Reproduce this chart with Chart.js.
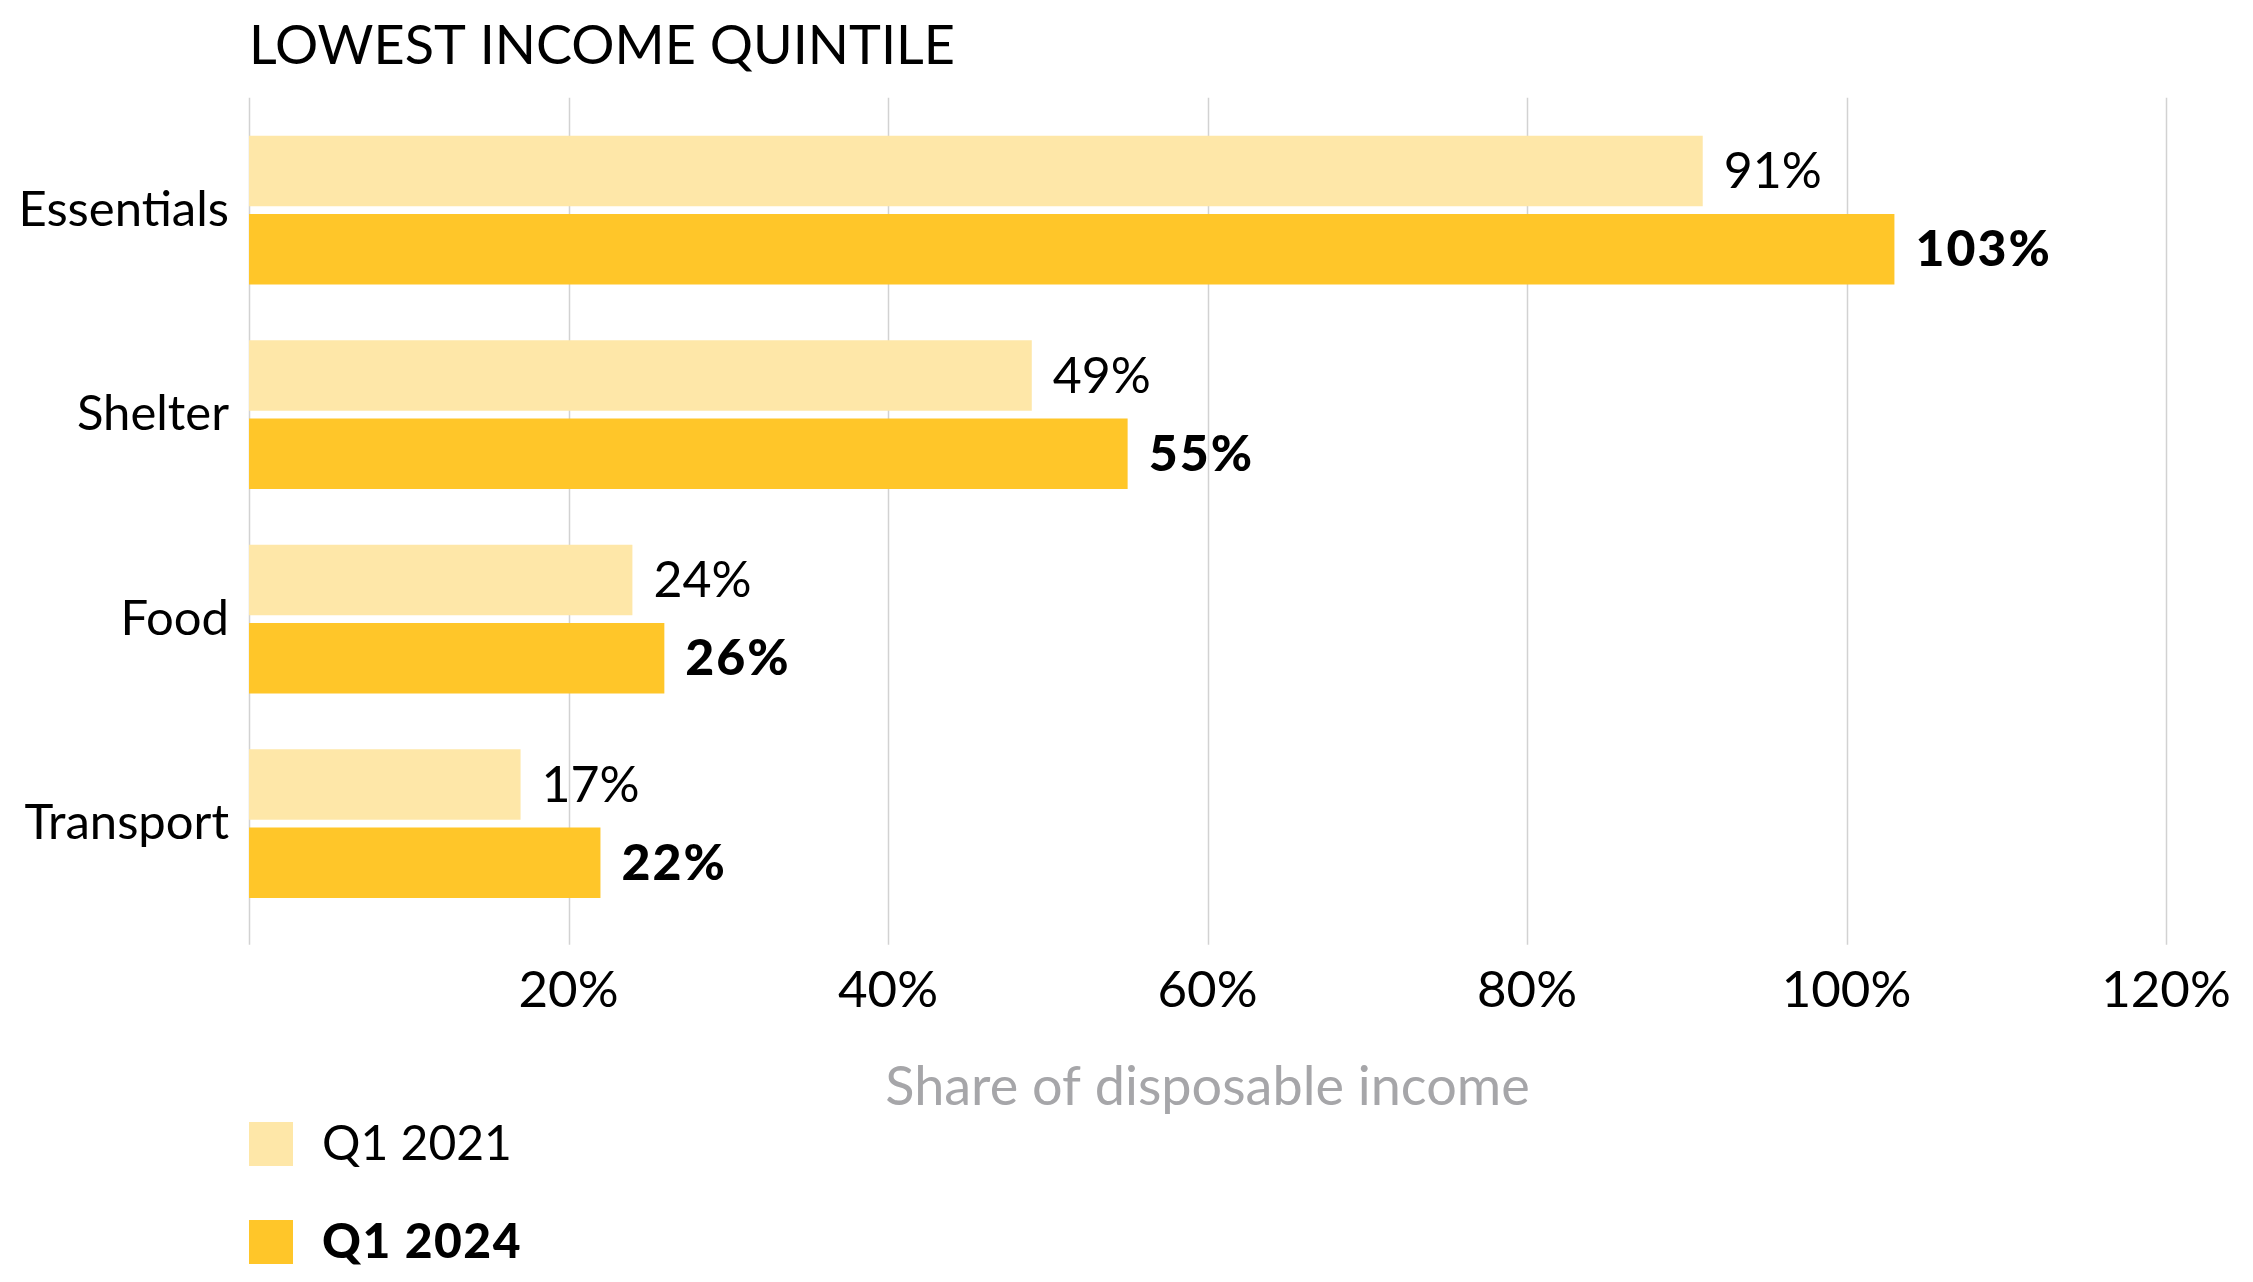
<!DOCTYPE html>
<html>
<head>
<meta charset="utf-8">
<title>Lowest income quintile</title>
<script src="https://cdn.jsdelivr.net/npm/chart.js@4.4.1/dist/chart.umd.min.js"></script>
<style>
  html, body { margin: 0; padding: 0; background: #fff; }
  #wrap { width: 2253px; height: 1282px; position: relative; }
</style>
</head>
<body>
<div id="wrap"><canvas id="shareChart"></canvas></div>
<script>
// Share of disposable income, lowest income quintile
const categories = ['Essentials', 'Shelter', 'Food', 'Transport'];
const q1_2021 = [91, 49, 24, 17];
const q1_2024 = [103, 55, 26, 22];
const seriesLabels = ['Q1 2021', 'Q1 2024'];
const xTicks = [0, 20, 40, 60, 80, 100, 120];

const FONT = "Lato, 'Noto Sans', sans-serif";
const LIGHT = '#FEE7A8';
const DARK = '#FFC629';

// vertical grid lines, a little longer than the plot area
const gridPlugin = {
    id: 'gridLines',
    beforeDatasetsDraw(chart) {
        const { ctx, chartArea, scales } = chart;
        ctx.save();
        ctx.strokeStyle = '#d2d2d2';
        ctx.lineWidth = 1.5;
        xTicks.forEach(v => {
            const x = Math.round(scales.x.getPixelForValue(v)) + 0.5;
            ctx.beginPath();
            ctx.moveTo(x, chartArea.top - 10);
            ctx.lineTo(x, chartArea.bottom + 19);
            ctx.stroke();
        });
        ctx.restore();
    }
};

// value labels at the end of each bar
const valueLabels = {
    id: 'valueLabels',
    afterDatasetsDraw(chart) {
        const { ctx } = chart;
        ctx.save();
        ctx.fillStyle = '#000';
        ctx.textAlign = 'left';
        ctx.textBaseline = 'middle';
        chart.data.datasets.forEach((ds, i) => {
            const meta = chart.getDatasetMeta(i);
            const bold = i === 1;
            ctx.font = (bold ? '900 ' : '400 ') + '50px ' + FONT;
            ctx.letterSpacing = bold ? '2px' : '0px';
            meta.data.forEach((bar, j) => {
                ctx.fillText(ds.data[j] + '%', bar.x + 21, bar.y + 1);
            });
        });
        ctx.restore();
    }
};

// stacked legend under the axis title
const stackedLegend = {
    id: 'stackedLegend',
    afterDraw(chart) {
        const { ctx, chartArea, scales } = chart;
        const left = chartArea.left;
        const top = scales.x.bottom + 7;
        ctx.save();
        ctx.textAlign = 'left';
        ctx.textBaseline = 'middle';
        chart.data.datasets.forEach((ds, i) => {
            const bold = i === 1;
            const y = top + i * 98;
            ctx.fillStyle = ds.backgroundColor;
            ctx.fillRect(left, y, 44, 44);
            ctx.fillStyle = '#000';
            ctx.font = (bold ? '900 ' : '400 ') + '48px ' + FONT;
            ctx.letterSpacing = bold ? '1.5px' : '0px';
            ctx.fillText(ds.label, left + 73, y + 23);
        });
        ctx.restore();
    }
};

const ctx = document.getElementById('shareChart').getContext('2d');
const shareChart = new Chart(ctx, {
    type: 'bar',
    data: {
        labels: categories,
        datasets: [
            { label: seriesLabels[0], data: q1_2021, backgroundColor: LIGHT },
            { label: seriesLabels[1], data: q1_2024, backgroundColor: DARK }
        ]
    },
    options: {
        indexAxis: 'y',
        responsive: true,
        maintainAspectRatio: false,
        animation: false,
        categoryPercentage: 0.766,
        barPercentage: 0.9,
        layout: { padding: { left: 0, right: 87, top: 0, bottom: 167 } },
        plugins: {
            legend: { display: false },
            tooltip: { enabled: false },
            title: {
                display: true,
                text: 'LOWEST INCOME QUINTILE',
                align: 'start',
                fullSize: false,
                color: '#000',
                font: { family: FONT, size: 54, weight: '400', lineHeight: 1.2 },
                padding: { top: 14, bottom: 29 }
            }
        },
        scales: {
            x: {
                min: 0,
                max: 120,
                grid: { display: false, drawTicks: false },
                border: { display: false },
                ticks: {
                    stepSize: 20,
                    padding: 34,
                    color: '#000',
                    font: { family: FONT, size: 51, lineHeight: 1.2 },
                    callback: v => (v === 0 ? '' : v + '%')
                },
                title: {
                    display: true,
                    text: 'Share of disposable income',
                    color: '#a6a6a9',
                    font: { family: FONT, size: 54, lineHeight: 1.0 },
                    padding: { top: 6, bottom: 0 }
                },
                // the right margin comes from layout.padding, not the last label
                afterFit(scale) {
                    scale.paddingLeft = 0;
                    scale.paddingRight = 0;
                }
            },
            y: {
                grid: { display: false, drawTicks: false },
                border: { display: false },
                ticks: {
                    padding: 20,
                    color: '#000',
                    font: { family: FONT, size: 49, lineHeight: 1.2 }
                },
                afterFit(scale) { scale.width = 249; }
            }
        }
    },
    plugins: [gridPlugin, valueLabels, stackedLegend]
});
</script>
</body>
</html>
